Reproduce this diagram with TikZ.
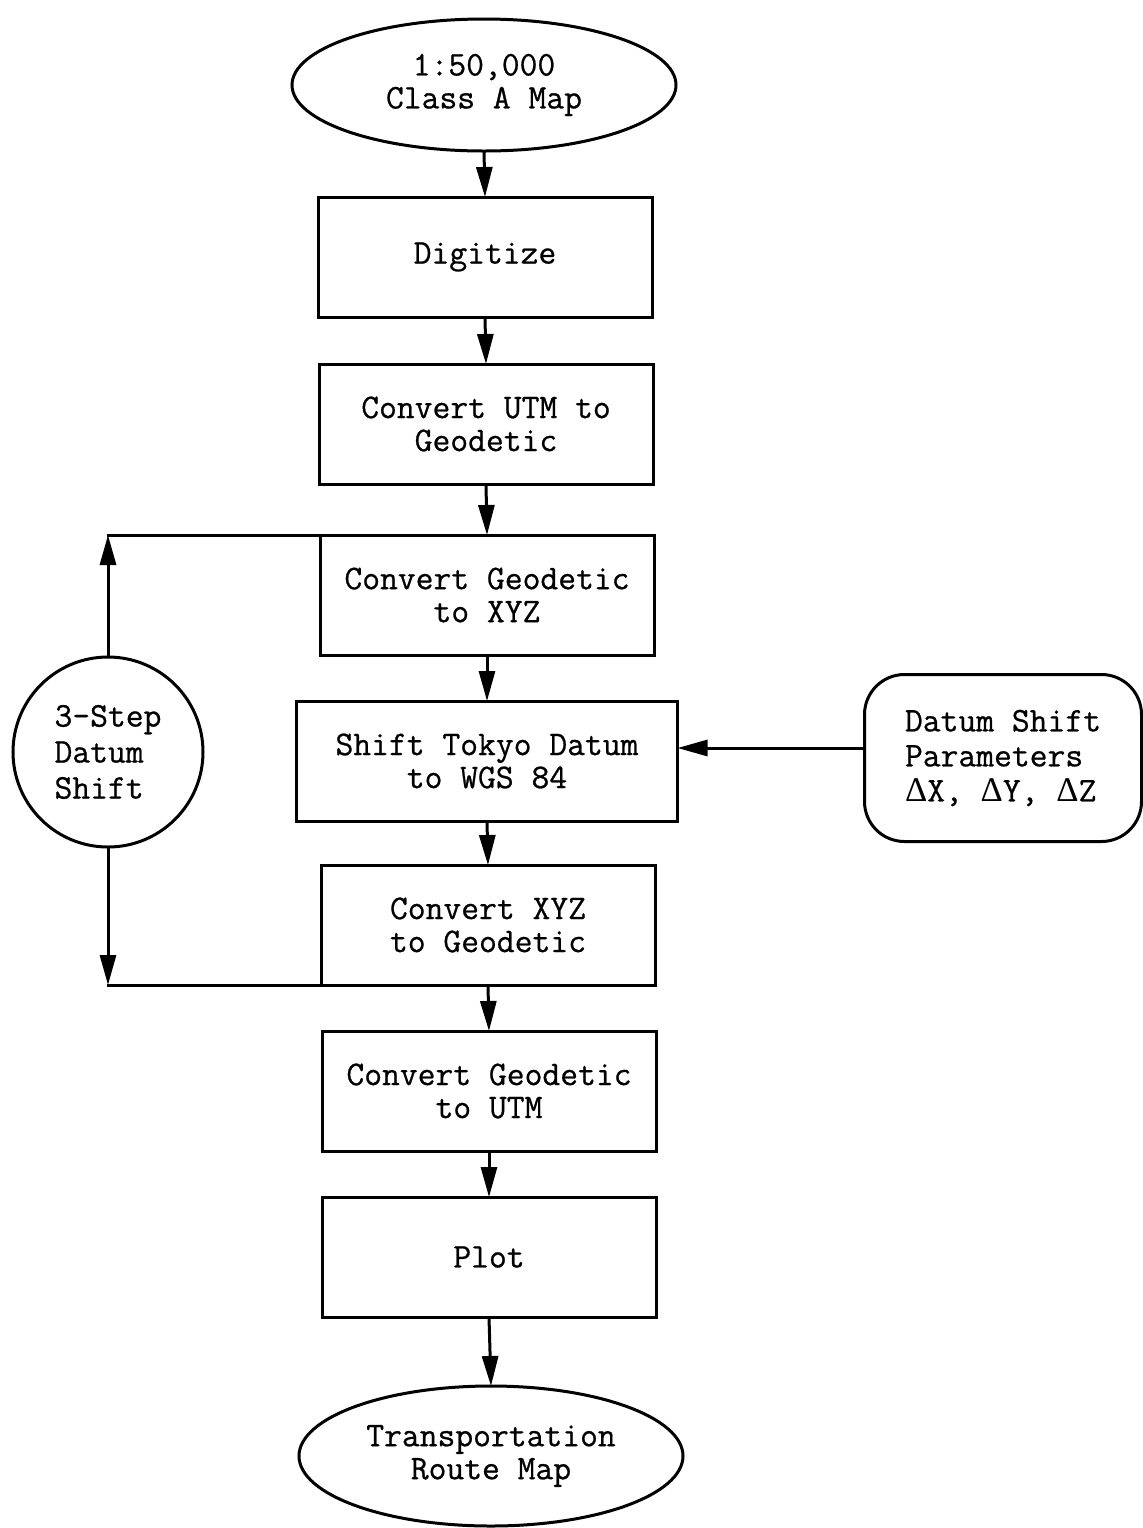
\documentclass[tikz,border=0pt]{standalone}
\usepackage{fontspec}
\newfontfamily\boxfont[FakeBold=0.7]{Latin Modern Mono}
\newfontfamily\deltafont{Liberation Serif}
\usetikzlibrary{arrows.meta,shapes.geometric}
\begin{document}
\begin{tikzpicture}[x=0.5pt,y=-0.5pt,>={Triangle[length=15pt,width=8pt]}]
    \tikzset{
        block/.style={
            draw,line width=1.5pt,
            minimum width=167pt,minimum height=60pt,
            inner sep=2pt,outer sep=0pt,align=center,
            font=\boxfont\fontsize{17.3}{16.5}\selectfont
        },
        widebox/.style={block,minimum width=190.5pt},
        terminal/.style={block,ellipse,minimum width=192pt,minimum height=66pt},
        stepcircle/.style={block,circle,minimum size=95pt,align=left,
            font=\boxfont\fontsize{17.3}{18}\selectfont},
        param/.style={block,rounded corners=20pt,
            minimum width=138.5pt,minimum height=83.5pt,align=left,
            font=\boxfont\fontsize{17.3}{17.5}\selectfont},
        flow/.style={->,line width=1.5pt},
        link/.style={line width=1.5pt,line cap=rect}
    }
    \useasboundingbox (0,0) rectangle (1142,1528);

    \node[terminal] (map-in) at (484,85) {1:50,000\\Class A Map};
    \node[block] (digitize) at (485,257) {Digitize};
    \node[block] (utm-geo) at (486,424) {Convert UTM to\\Geodetic};
    \node[block] (geo-xyz) at (487,595) {Convert Geodetic\\to XYZ};
    \node[widebox] (shift) at (487,761) {Shift Tokyo Datum\\to WGS 84};
    \node[block] (xyz-geo) at (488,925) {Convert XYZ\\to Geodetic};
    \node[block] (geo-utm) at (489,1091) {Convert Geodetic\\to UTM};
    \node[block] (plot) at (489,1257) {Plot};
    \node[terminal,minimum height=70pt] (map-out) at (491,1456)
        {Transportation\\Route Map};

    \draw[flow] (map-in.south) -- (digitize.north);
    \draw[flow] (digitize.south) -- (utm-geo.north);
    \draw[flow] (utm-geo.south) -- (geo-xyz.north);
    \draw[flow] (geo-xyz.south) -- (shift.north);
    \draw[flow] (shift.south) -- (xyz-geo.north);
    \draw[flow] (xyz-geo.south) -- (geo-utm.north);
    \draw[flow] (geo-utm.south) -- (plot.north);
    \draw[flow] (plot.south) -- (map-out.north);

    % datum shift bracket
    \node[stepcircle] (three-step) at (108,752) {3–Step\\Datum\\Shift};
    \draw[flow] (three-step.north) -- (three-step.north |- geo-xyz.north);
    \draw[link] (three-step.north |- geo-xyz.north) -- (geo-xyz.north west);
    \draw[flow] (three-step.south) -- (three-step.south |- xyz-geo.south);
    \draw[link] (three-step.south |- xyz-geo.south) -- (xyz-geo.south west);

    % parameters
    \node[param] (params) at (1003,758)
        {Datum Shift\\Parameters\\{\deltafont Δ}X, {\deltafont Δ}Y, {\deltafont Δ}Z};
    \draw[flow] ([yshift=5pt]params.west) -- ([yshift=5pt]params.west -| shift.east);
\end{tikzpicture}
\end{document}
